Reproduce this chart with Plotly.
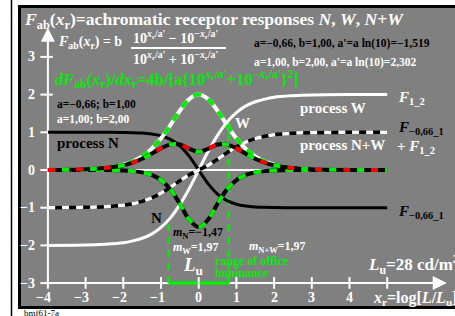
import plotly.graph_objects as go

# ---------------- data ----------------
x_vals = [-4, -3, -2.5, -2, -1.75, -1.5, -1.25, -1, -0.75, -0.5, -0.25, 0,
          0.25, 0.5, 0.75, 1, 1.25, 1.5, 1.75, 2, 2.5, 3, 4, 5]
F_W = [-2.00, -1.99, -1.97, -1.93, -1.88, -1.81, -1.70, -1.52, -1.27, -0.92, -0.49, 0,
       0.49, 0.92, 1.27, 1.52, 1.70, 1.81, 1.88, 1.93, 1.97, 1.99, 2.00, 2.00]
F_N = [1.00, 1.00, 1.00, 0.995, 0.99, 0.979, 0.956, 0.908, 0.813, 0.640, 0.362, 0,
       -0.362, -0.640, -0.813, -0.908, -0.956, -0.979, -0.99, -0.995, -1.00, -1.00, -1.00, -1.00]
F_NW = [-1.00, -0.99, -0.974, -0.933, -0.893, -0.831, -0.741, -0.615, -0.457, -0.284, -0.128, 0,
        0.128, 0.284, 0.457, 0.615, 0.741, 0.831, 0.893, 0.933, 0.974, 0.99, 1.00, 1.00]
dF_W = [0.003, 0.020, 0.053, 0.141, 0.228, 0.362, 0.561, 0.840, 1.193, 1.573, 1.880, 2.000,
        1.880, 1.573, 1.193, 0.840, 0.561, 0.362, 0.228, 0.141, 0.053, 0.020, 0.003, 0.000]
dF_N = [0, 0, -0.002, -0.014, -0.030, -0.063, -0.131, -0.266, -0.514, -0.895, -1.317, -1.515,
        -1.317, -0.895, -0.514, -0.266, -0.131, -0.063, -0.030, -0.014, -0.002, 0, 0, 0]
dF_NW = [0.003, 0.020, 0.051, 0.127, 0.198, 0.299, 0.430, 0.574, 0.679, 0.678, 0.563, 0.485,
         0.563, 0.678, 0.679, 0.574, 0.430, 0.299, 0.198, 0.127, 0.051, 0.020, 0.003, 0.000]

office_x = [-0.8, 0.8]
office_top = [-1.33, 1.33]

x_ticks = [-4, -3, -2, -1, 0, 1, 2, 3, 4, 5]
x_tick_labels = ["−4", "−3", "−2", "−1", "0", "1", "2", "3", "4", ""]
y_ticks = [3, 2, 1, 0, -1, -2, -3]
y_tick_labels = ["3", "2", "1", "0", "−1", "−2", "−3"]

# ---------------- geometry helpers ----------------
W, H = 455, 316
L_M, T_M, B_M = 21, 8, 10
PX0, PY0, S = 198.7, 170.0, 37.7   # pixel of data origin and px per unit


def X(px):
    return (px - PX0) / S


def Y(py):
    return (PY0 - py) / S


FONT = "Liberation Serif, Times New Roman, serif"
GREEN = "#00ee00"
GRAY = "#808080"

fig = go.Figure()


def line(xs, ys, color, width, dash="solid", spline=False):
    fig.add_trace(go.Scatter(x=xs, y=ys, mode="lines",
                             line=dict(color=color, width=width, dash=dash,
                                       shape="spline" if spline else "linear",
                                       smoothing=1.0),
                             hoverinfo="skip", showlegend=False))


# zero line
line([x_vals[0], x_vals[-1]], [0, 0], "white", 2)
# axes
line([-4, -4], [-3, 3.55], "white", 2)
line([-4, 6.35], [-3, -3], "white", 2)
# office range
for xo, yt in zip(office_x, office_top):
    line([xo, xo], [-3, yt], GREEN, 2.5, dash="7px,6px")
line(office_x, [-3, -3], GREEN, 3.5)
# tick marks
tx, ty = [], []
for t in x_ticks:
    tx += [t, t, None]
    ty += [-2.84, -3.15, None]
line(tx, ty, "white", 2)
tx, ty = [], []
for t in y_ticks:
    tx += [-4.2, -3.87, None]
    ty += [t, t, None]
line(tx, ty, "white", 2)

# curves
line(x_vals, F_W, "white", 3, spline=True)
line(x_vals, F_N, "black", 3, spline=True)
line(x_vals, F_NW, "black", 3.5, spline=True)
line(x_vals, F_NW, "white", 3.5, dash="7px,7px", spline=True)
line(x_vals, dF_W, "white", 4, spline=True)
line(x_vals, dF_W, GREEN, 4, dash="8px,8px", spline=True)
line(x_vals, dF_N, "black", 4, spline=True)
line(x_vals, dF_N, GREEN, 4, dash="8px,8px", spline=True)
line(x_vals, dF_NW, "black", 4, spline=True)
line(x_vals, dF_NW, "red", 4, dash="7px,21px", spline=True)
line(x_vals, dF_NW, GREEN, 4, dash="0px,14px,7px,7px", spline=True)

ann = []


def txt(xp, yp, s, size, color, anchor="left", xshift=0):
    ann.append(dict(x=X(xp), y=Y(yp), xref="x", yref="y", text=s, showarrow=False,
                    xanchor=anchor, yanchor="middle", xshift=xshift,
                    font=dict(family=FONT, size=size, color=color)))


# axis arrowheads
ann.append(dict(x=-4, y=3.77, ax=-4, ay=3.3, xref="x", yref="y", axref="x", ayref="y",
                text="", showarrow=True, arrowhead=2, arrowsize=1.4, arrowwidth=2,
                arrowcolor="white", standoff=0))
ann.append(dict(x=6.58, y=-3, ax=6.1, ay=-3, xref="x", yref="y", axref="x", ayref="y",
                text="", showarrow=True, arrowhead=2, arrowsize=1.4, arrowwidth=2,
                arrowcolor="white", standoff=0))

# tick labels
for t, lab in zip(x_ticks, x_tick_labels):
    if lab:
        ann.append(dict(x=t, y=Y(297), xref="x", yref="y", text="<b>%s</b>" % lab,
                        showarrow=False, xanchor="center", yanchor="middle",
                        xshift=-4 if lab.startswith("−") else 0,
                        font=dict(family=FONT, size=14, color="white")))
for t, lab in zip(y_ticks, y_tick_labels):
    ann.append(dict(x=X(37), y=t, xref="x", yref="y", text="<b>%s</b>" % lab,
                    showarrow=False, xanchor="right", yanchor="middle",
                    font=dict(family=FONT, size=14, color="white")))

# texts
txt(22, 20, "<b><i>F</i><sub>ab</sub>(<i>x</i><sub>r</sub>)=achromatic receptor responses "
            "<i>N</i>, <i>W</i>, <i>N</i>+<i>W</i></b>", 17.6, "white")
txt(56, 42, "<b><i>F</i><sub>ab</sub>(<i>x</i><sub>r</sub>) = b</b>", 14, "white")
txt(131, 37, "<b>10<sup><i>x</i><sub>r</sub>/a'</sup> − 10<sup>−<i>x</i><sub>r</sub>/a'</sup></b>",
    14, "white")
txt(131, 58, "<b>10<sup><i>x</i><sub>r</sub>/a'</sup> + 10<sup>−<i>x</i><sub>r</sub>/a'</sup></b>",
    14, "white")
txt(252, 43, "<b>a=−0,66, b=1,00, a'=a ln(10)=−1,519</b>", 11.5, "black")
txt(252, 62, "<b>a=1,00, b=2,00, a'=a ln(10)=2,302</b>", 11.5, "white")
txt(53, 79, "<b><i>dF</i><sub>ab</sub>(<i>x</i><sub>r</sub>)/<i>dx</i><sub>r</sub>=4b/[a{10"
            "<sup><i>x</i><sub>r</sub>/a'</sup>+10<sup>−<i>x</i><sub>r</sub>/a'</sup>}<sup>2</sup>]</b>",
    16.5, GREEN)
txt(55, 104, "<b>a=−0,66; b=1,00</b>", 11.5, "black")
txt(55, 119, "<b>a=1,00; b=2,00</b>", 11.5, "white")
txt(55, 143, "<b>process N</b>", 15, "black")
txt(298, 108, "<b>process W</b>", 15, "white")
txt(298, 145, "<b>process N+W</b>", 15, "white")
txt(233, 123, "<b>W</b>", 15, "white")
txt(149, 218, "<b>N</b>", 15, "black")
txt(396, 98, "<b><i>F</i><sub>1_2</sub></b>", 15, "white")
txt(396, 128, "<b><i>F</i><sub>−0,66_1</sub></b>", 15, "black")
txt(395, 147, "<b>+ <i>F</i><sub>1_2</sub></b>", 15, "white")
txt(396, 212, "<b><i>F</i><sub>−0,66_1</sub></b>", 15, "black")
txt(171, 233, "<b><i>m</i><sub>N</sub>=−1,47</b>", 12, "black")
txt(171, 248, "<b><i>m</i><sub>W</sub>=1,97</b>", 12, "white")
txt(247, 247, "<b><i>m</i><sub>N+W</sub>=1,97</b>", 12, "white")
txt(181, 266, "<b><i>L</i><sub>u</sub></b>", 19, "white")
txt(213, 261, "<b>range of office</b>", 12, GREEN)
txt(213, 273, "<b>luminance</b>", 12, GREEN)
txt(366, 264, "<b><i>L</i><sub>u</sub>=28 cd/m<sup>2</sup></b>", 17, "white")
txt(371, 298, "<b><i>x</i><sub>r</sub>=log[<i>L</i>/<i>L</i><sub>u</sub>]</b>", 16, "white")
ann.append(dict(x=(22 - L_M) / 434, y=(306 - 313) / 298, xref="paper", yref="paper",
                text="bmf61-7a", showarrow=False, xanchor="left", yanchor="middle",
                font=dict(family=FONT, size=9, color="black")))

PW, PH = W - L_M, H - T_M - B_M
shapes = [
    dict(type="rect", xref="paper", yref="paper",
         x0=-1.5 / PW, x1=1 + 1.5 / PW, y0=-1.5 / PH, y1=1 + 1.5 / PH,
         line=dict(color="black", width=3), fillcolor="rgba(0,0,0,0)"),
    dict(type="line", xref="paper", yref="paper",
         x0=(11.5 - L_M) / PW, x1=(11.5 - L_M) / PW, y0=(306 - 318) / PH, y1=(306 + 2) / PH,
         line=dict(color="black", width=1.5)),
    dict(type="line", xref="x", yref="y", x0=X(131), x1=X(226), y0=Y(48), y1=Y(48),
         line=dict(color="white", width=2)),
]

fig.update_layout(
    width=W, height=H,
    margin=dict(l=L_M, r=0, t=T_M, b=B_M, pad=0),
    paper_bgcolor="white", plot_bgcolor=GRAY,
    xaxis=dict(range=[X(L_M), X(W)], visible=False, fixedrange=True),
    yaxis=dict(range=[Y(H - B_M), Y(T_M)], visible=False, fixedrange=True),
    annotations=ann, shapes=shapes, showlegend=False, hovermode=False,
)
fig.write_html("out.html", config={"displayModeBar": False},
               post_script="document.body.style.margin='0';document.body.style.overflow='hidden';")
